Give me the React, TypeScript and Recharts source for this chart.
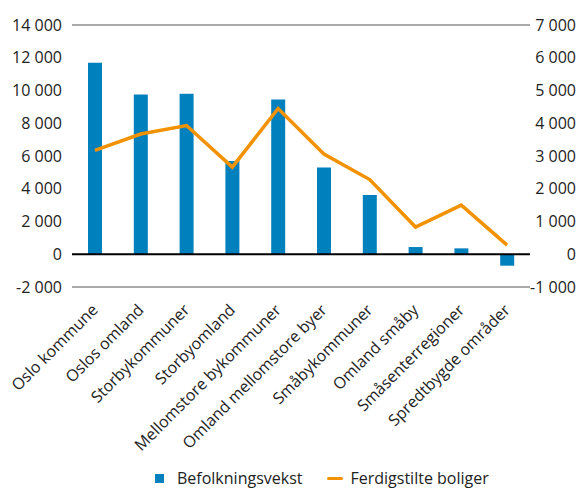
import React from "react";
import {
  ComposedChart,
  Bar,
  Line,
  XAxis,
  YAxis,
  CartesianGrid,
  ReferenceLine,
  Legend,
} from "recharts";

const regions = [
  "Oslo kommune",
  "Oslos omland",
  "Storbykommuner",
  "Storbyomland",
  "Mellomstore bykommuner",
  "Omland mellomstore byer",
  "Småbykommuner",
  "Omland småby",
  "Småsenterregioner",
  "Spredtbygde områder",
];
const popGrowth = [11700, 9750, 9800, 5700, 9450, 5300, 3620, 440, 360, -700];
const dwellings = [3170, 3670, 3930, 2660, 4450, 3060, 2280, 830, 1500, 280];
const leftTicks = [-2000, 0, 2000, 4000, 6000, 8000, 10000, 12000, 14000];
const rightTicks = [-1000, 0, 1000, 2000, 3000, 4000, 5000, 6000, 7000];

const data = regions.map((name, i) => ({
  name,
  pop: popGrowth[i],
  homes: dwellings[i],
}));

const FONT = "'Open Sans', sans-serif";
const BLUE = "#0080bc";
const ORANGE = "#f39200";
const FS = 16;

// 14 000 style, hyphen for negatives
const fmt = (v: number) => {
  const s = Math.abs(v).toString().replace(/\B(?=(\d{3})+(?!\d))/g, " ");
  return v < 0 ? "-" + s : s;
};

const LeftTick = (props: any) => {
  const { y, payload } = props;
  return (
    <text x={62} y={y} dy={5.5} textAnchor="end" fontSize={FS} fill="#222" fontFamily={FONT}>
      {fmt(payload.value)}
    </text>
  );
};

const RightTick = (props: any) => {
  const { y, payload } = props;
  return (
    <text x={576} y={y} dy={5.5} textAnchor="end" fontSize={FS} fill="#222" fontFamily={FONT}>
      {fmt(payload.value)}
    </text>
  );
};

const CatTick = (props: any) => {
  const { x, y, payload } = props;
  const ax = x + 4;
  const ay = y + 16;
  return (
    <text
      x={ax}
      y={ay}
      textAnchor="end"
      fontSize={FS}
      fill="#222"
      fontFamily={FONT}
      transform={`rotate(-45, ${ax}, ${ay})`}
    >
      {payload.value}
    </text>
  );
};

const LegendContent = () => (
  <div
    style={{
      display: "flex",
      alignItems: "center",
      fontFamily: FONT,
      fontSize: FS,
      color: "#222",
      paddingLeft: 155,
    }}
  >
    <span style={{ width: 9, height: 9, background: BLUE, display: "inline-block", marginRight: 13 }} />
    <span style={{ marginRight: 25 }}>Befolkningsvekst</span>
    <span
      style={{ width: 16, height: 3, borderRadius: 2, background: ORANGE, display: "inline-block", marginRight: 7 }}
    />
    <span>Ferdigstilte boliger</span>
  </div>
);

export default function App() {
  return (
    <div style={{ position: "absolute", left: 0, top: 0, width: 578, height: 491, background: "#fff" }}>
      <ComposedChart
        width={578}
        height={491}
        data={data}
        margin={{ top: 25, right: 0, bottom: 0, left: 0 }}
      >
        <CartesianGrid vertical={false} stroke="#555" strokeWidth={1} />
        <XAxis
          dataKey="name"
          interval={0}
          height={180}
          axisLine={false}
          tickLine={false}
          tick={<CatTick />}
        />
        <YAxis
          yAxisId="left"
          orientation="left"
          width={72}
          domain={[-2000, 14000]}
          ticks={leftTicks}
          axisLine={false}
          tickLine={false}
          tick={<LeftTick />}
        />
        <YAxis
          yAxisId="right"
          orientation="right"
          width={48}
          domain={[-1000, 7000]}
          ticks={rightTicks}
          axisLine={false}
          tickLine={false}
          tick={<RightTick />}
        />
        <ReferenceLine yAxisId="left" y={0} stroke="#000" strokeWidth={2} />
        <Bar
          yAxisId="left"
          dataKey="pop"
          name="Befolkningsvekst"
          fill={BLUE}
          barSize={14}
          isAnimationActive={false}
        />
        <Line
          yAxisId="right"
          dataKey="homes"
          name="Ferdigstilte boliger"
          stroke={ORANGE}
          strokeWidth={3.5}
          dot={false}
          activeDot={false}
          isAnimationActive={false}
        />
        <Legend verticalAlign="bottom" height={24} content={<LegendContent />} />
      </ComposedChart>
    </div>
  );
}
